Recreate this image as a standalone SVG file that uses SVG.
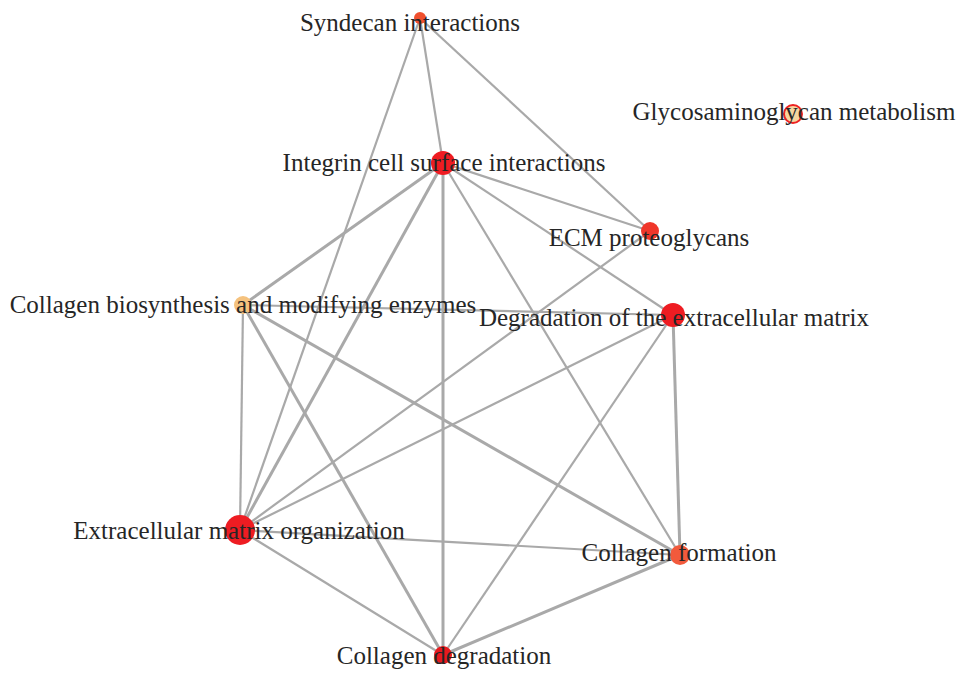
<svg xmlns="http://www.w3.org/2000/svg" width="969" height="682" viewBox="0 0 969 682">
<style>
.e{stroke:#a9a9a9;stroke-width:2.2;fill:none}
.t{stroke-width:3}
.lbl{font-family:"Liberation Serif","Times New Roman",serif;font-size:25px;fill:#262626;text-anchor:middle}
</style>
<rect width="969" height="682" fill="#fff"/>
<g id="connectors">
<line class="e" x1="420" y1="18" x2="443" y2="163"/>
<line class="e" x1="420" y1="18" x2="650" y2="231"/>
<line class="e" x1="420" y1="18" x2="240" y2="530"/>
<line class="e" x1="443" y1="163" x2="650" y2="231"/>
<line class="e" x1="443" y1="163" x2="673" y2="315"/>
<line class="e t" x1="443" y1="163" x2="243" y2="305"/>
<line class="e t" x1="443" y1="163" x2="240" y2="530"/>
<line class="e t" x1="443" y1="163" x2="443" y2="655"/>
<line class="e" x1="443" y1="163" x2="680" y2="555"/>
<line class="e" x1="650" y1="231" x2="240" y2="530"/>
<line class="e" x1="673" y1="315" x2="243" y2="305"/>
<line class="e" x1="673" y1="315" x2="240" y2="530"/>
<line class="e" x1="673" y1="315" x2="443" y2="655"/>
<line class="e t" x1="673" y1="315" x2="680" y2="555"/>
<line class="e" x1="243" y1="305" x2="240" y2="530"/>
<line class="e t" x1="243" y1="305" x2="443" y2="655"/>
<line class="e t" x1="243" y1="305" x2="680" y2="555"/>
<line class="e" x1="240" y1="530" x2="680" y2="555"/>
<line class="e" x1="240" y1="530" x2="443" y2="655"/>
<line class="e t" x1="680" y1="555" x2="443" y2="655"/>
</g>
<g id="n-syndecan"><circle cx="420" cy="18" r="6" fill="#f0502e"/><text class="lbl" x="410" y="31">Syndecan interactions</text></g>
<g id="n-glycosaminoglycan"><circle cx="793" cy="114" r="9" fill="#f7d6a0" stroke="#ee2222" stroke-width="2"/><text class="lbl" x="794" y="120">Glycosaminoglycan metabolism</text></g>
<g id="n-integrin"><circle cx="443" cy="163" r="12" fill="#ee1c22"/><text class="lbl" x="444" y="171">Integrin cell surface interactions</text></g>
<g id="n-ecm"><circle cx="650" cy="231" r="9" fill="#f0362a"/><text class="lbl" x="649" y="246">ECM proteoglycans</text></g>
<g id="n-collagen-biosynthesis"><circle cx="243" cy="305" r="9" fill="#f5c27e"/><text class="lbl" x="243" y="313">Collagen biosynthesis and modifying enzymes</text></g>
<g id="n-degradation-ecm"><circle cx="673" cy="315" r="12" fill="#ee1c22"/><text class="lbl" x="674" y="326">Degradation of the extracellular matrix</text></g>
<g id="n-ecm-organization"><circle cx="240" cy="530" r="15" fill="#ee1c22"/><text class="lbl" x="239" y="539">Extracellular matrix organization</text></g>
<g id="n-collagen-formation"><circle cx="680" cy="555" r="10" fill="#f25a3c"/><text class="lbl" x="679" y="561">Collagen formation</text></g>
<g id="n-collagen-degradation"><circle cx="443" cy="655" r="9" fill="#e81a1e"/><text class="lbl" x="444" y="664">Collagen degradation</text></g>
</svg>
